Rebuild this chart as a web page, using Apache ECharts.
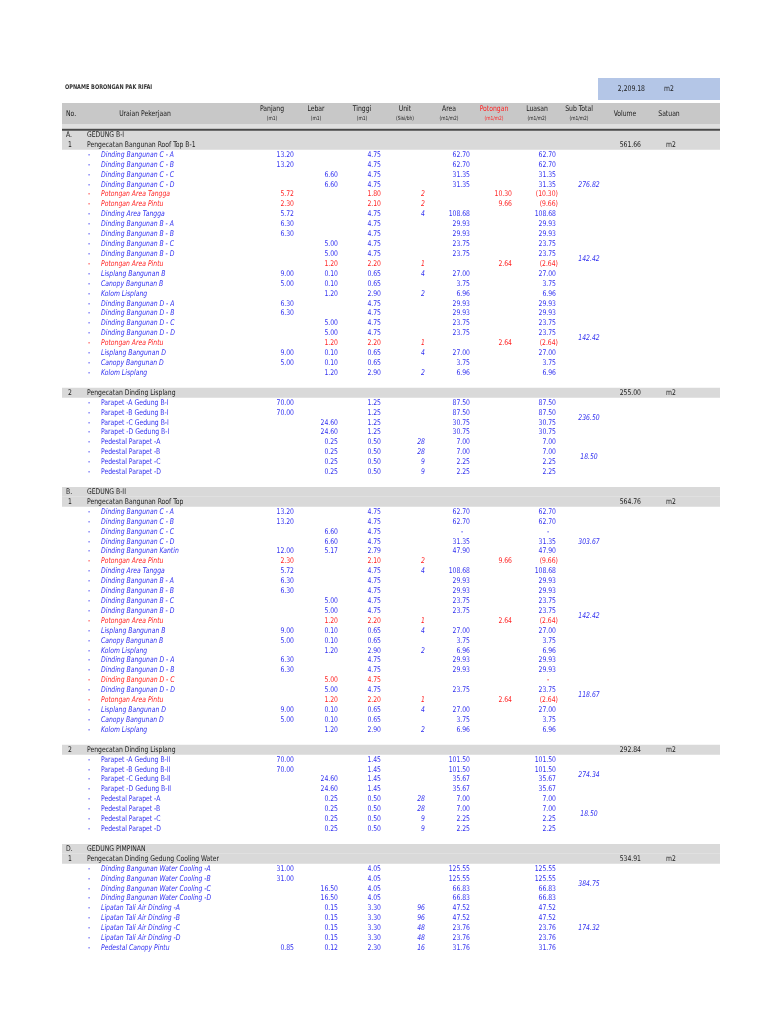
<!DOCTYPE html>
<html lang="id">
<head>
<meta charset="utf-8">
<title>Opname Borongan Pak Rifai</title>
<script src="https://cdn.jsdelivr.net/npm/echarts@6.0.0/dist/echarts.min.js"></script>
<style>
  html, body { margin: 0; padding: 0; background: #fff; }
  #main { width: 768px; height: 1024px; }
</style>
</head>
<body>
<div id="main"></div>
<script>
// ===== data =====
var judul = 'OPNAME BORONGAN PAK RIFAI';
var totalVolume = '2,209.18';
var totalSatuan = 'm2';
var kolomJudul = ['Panjang', 'Lebar', 'Tinggi', 'Unit', 'Area', 'Potongan', 'Luasan', 'Sub Total'];
var kolomSatuan = ['(m1)', '(m1)', '(m1)', '(Sisi/bh)', '(m1/m2)', '(m1/m2)', '(m1/m2)', '(m1/m2)'];

// [uraian, panjang, lebar, tinggi, unit, area, potongan, luasan]
var itemRoofB1 = [
  ['Dinding Bangunan C - A', 13.20, null, 4.75, null, 62.70, null, 62.70],
  ['Dinding Bangunan C - B', 13.20, null, 4.75, null, 62.70, null, 62.70],
  ['Dinding Bangunan C - C', null, 6.60, 4.75, null, 31.35, null, 31.35],
  ['Dinding Bangunan C - D', null, 6.60, 4.75, null, 31.35, null, 31.35],
  ['Potongan Area Tangga', 5.72, null, 1.80, 2, null, 10.30, -10.30],
  ['Potongan Area Pintu', 2.30, null, 2.10, 2, null, 9.66, -9.66],
  ['Dinding Area Tangga', 5.72, null, 4.75, 4, 108.68, null, 108.68],
  ['Dinding Bangunan B - A', 6.30, null, 4.75, null, 29.93, null, 29.93],
  ['Dinding Bangunan B - B', 6.30, null, 4.75, null, 29.93, null, 29.93],
  ['Dinding Bangunan B - C', null, 5.00, 4.75, null, 23.75, null, 23.75],
  ['Dinding Bangunan B - D', null, 5.00, 4.75, null, 23.75, null, 23.75],
  ['Potongan Area Pintu', null, 1.20, 2.20, 1, null, 2.64, -2.64],
  ['Lisplang Bangunan B', 9.00, 0.10, 0.65, 4, 27.00, null, 27.00],
  ['Canopy Bangunan B', 5.00, 0.10, 0.65, null, 3.75, null, 3.75],
  ['Kolom Lisplang', null, 1.20, 2.90, 2, 6.96, null, 6.96],
  ['Dinding Bangunan D - A', 6.30, null, 4.75, null, 29.93, null, 29.93],
  ['Dinding Bangunan D - B', 6.30, null, 4.75, null, 29.93, null, 29.93],
  ['Dinding Bangunan D - C', null, 5.00, 4.75, null, 23.75, null, 23.75],
  ['Dinding Bangunan D - D', null, 5.00, 4.75, null, 23.75, null, 23.75],
  ['Potongan Area Pintu', null, 1.20, 2.20, 1, null, 2.64, -2.64],
  ['Lisplang Bangunan D', 9.00, 0.10, 0.65, 4, 27.00, null, 27.00],
  ['Canopy Bangunan D', 5.00, 0.10, 0.65, null, 3.75, null, 3.75],
  ['Kolom Lisplang', null, 1.20, 2.90, 2, 6.96, null, 6.96]
];
var subRoofB1 = [[7, 276.82], [8, 142.42], [8, 142.42]];

var itemLisplangB1 = [
  ['Parapet -A Gedung B-I', 70.00, null, 1.25, null, 87.50, null, 87.50],
  ['Parapet -B Gedung B-I', 70.00, null, 1.25, null, 87.50, null, 87.50],
  ['Parapet -C Gedung B-I', null, 24.60, 1.25, null, 30.75, null, 30.75],
  ['Parapet -D Gedung B-I', null, 24.60, 1.25, null, 30.75, null, 30.75],
  ['Pedestal Parapet -A', null, 0.25, 0.50, 28, 7.00, null, 7.00],
  ['Pedestal Parapet -B', null, 0.25, 0.50, 28, 7.00, null, 7.00],
  ['Pedestal Parapet -C', null, 0.25, 0.50, 9, 2.25, null, 2.25],
  ['Pedestal Parapet -D', null, 0.25, 0.50, 9, 2.25, null, 2.25]
];
var subLisplangB1 = [[4, 236.50], [4, 18.50]];

var itemRoofB2 = [
  ['Dinding Bangunan C - A', 13.20, null, 4.75, null, 62.70, null, 62.70],
  ['Dinding Bangunan C - B', 13.20, null, 4.75, null, 62.70, null, 62.70],
  ['Dinding Bangunan C - C', null, 6.60, 4.75, null, 0, null, 0],
  ['Dinding Bangunan C - D', null, 6.60, 4.75, null, 31.35, null, 31.35],
  ['Dinding Bangunan Kantin', 12.00, 5.17, 2.79, null, 47.90, null, 47.90],
  ['Potongan Area Pintu', 2.30, null, 2.10, 2, null, 9.66, -9.66],
  ['Dinding Area Tangga', 5.72, null, 4.75, 4, 108.68, null, 108.68],
  ['Dinding Bangunan B - A', 6.30, null, 4.75, null, 29.93, null, 29.93],
  ['Dinding Bangunan B - B', 6.30, null, 4.75, null, 29.93, null, 29.93],
  ['Dinding Bangunan B - C', null, 5.00, 4.75, null, 23.75, null, 23.75],
  ['Dinding Bangunan B - D', null, 5.00, 4.75, null, 23.75, null, 23.75],
  ['Potongan Area Pintu', null, 1.20, 2.20, 1, null, 2.64, -2.64],
  ['Lisplang Bangunan B', 9.00, 0.10, 0.65, 4, 27.00, null, 27.00],
  ['Canopy Bangunan B', 5.00, 0.10, 0.65, null, 3.75, null, 3.75],
  ['Kolom Lisplang', null, 1.20, 2.90, 2, 6.96, null, 6.96],
  ['Dinding Bangunan D - A', 6.30, null, 4.75, null, 29.93, null, 29.93],
  ['Dinding Bangunan D - B', 6.30, null, 4.75, null, 29.93, null, 29.93],
  ['Dinding Bangunan D - C', null, 5.00, 4.75, null, null, null, 0],
  ['Dinding Bangunan D - D', null, 5.00, 4.75, null, 23.75, null, 23.75],
  ['Potongan Area Pintu', null, 1.20, 2.20, 1, null, 2.64, -2.64],
  ['Lisplang Bangunan D', 9.00, 0.10, 0.65, 4, 27.00, null, 27.00],
  ['Canopy Bangunan D', 5.00, 0.10, 0.65, null, 3.75, null, 3.75],
  ['Kolom Lisplang', null, 1.20, 2.90, 2, 6.96, null, 6.96]
];
var subRoofB2 = [[7, 303.67], [8, 142.42], [8, 118.67]];

var itemLisplangB2 = [
  ['Parapet -A Gedung B-II', 70.00, null, 1.45, null, 101.50, null, 101.50],
  ['Parapet -B Gedung B-II', 70.00, null, 1.45, null, 101.50, null, 101.50],
  ['Parapet -C Gedung B-II', null, 24.60, 1.45, null, 35.67, null, 35.67],
  ['Parapet -D Gedung B-II', null, 24.60, 1.45, null, 35.67, null, 35.67],
  ['Pedestal Parapet -A', null, 0.25, 0.50, 28, 7.00, null, 7.00],
  ['Pedestal Parapet -B', null, 0.25, 0.50, 28, 7.00, null, 7.00],
  ['Pedestal Parapet -C', null, 0.25, 0.50, 9, 2.25, null, 2.25],
  ['Pedestal Parapet -D', null, 0.25, 0.50, 9, 2.25, null, 2.25]
];
var subLisplangB2 = [[4, 274.34], [4, 18.50]];

var itemCooling = [
  ['Dinding Bangunan Water Cooling -A', 31.00, null, 4.05, null, 125.55, null, 125.55],
  ['Dinding Bangunan Water Cooling -B', 31.00, null, 4.05, null, 125.55, null, 125.55],
  ['Dinding Bangunan Water Cooling -C', null, 16.50, 4.05, null, 66.83, null, 66.83],
  ['Dinding Bangunan Water Cooling -D', null, 16.50, 4.05, null, 66.83, null, 66.83],
  ['Lipatan Tali Air Dinding -A', null, 0.15, 3.30, 96, 47.52, null, 47.52],
  ['Lipatan Tali Air Dinding -B', null, 0.15, 3.30, 96, 47.52, null, 47.52],
  ['Lipatan Tali Air Dinding -C', null, 0.15, 3.30, 48, 23.76, null, 23.76],
  ['Lipatan Tali Air Dinding -D', null, 0.15, 3.30, 48, 23.76, null, 23.76],
  ['Pedestal Canopy Pintu', 0.85, 0.12, 2.30, 16, 31.76, null, 31.76]
];
var subCooling = [[4, 384.75], [5, 174.32]];

var gedung = [
  { kode: 'A.', nama: 'GEDUNG B-I', pekerjaan: [
    { no: '1', nama: 'Pengecatan Bangunan Roof Top B-1', item: itemRoofB1, sub: subRoofB1, volume: 561.66 },
    { no: '2', nama: 'Pengecatan Dinding Lisplang', item: itemLisplangB1, sub: subLisplangB1, volume: 255.00 }
  ]},
  { kode: 'B.', nama: 'GEDUNG B-II', pekerjaan: [
    { no: '1', nama: 'Pengecatan Bangunan Roof Top', item: itemRoofB2, sub: subRoofB2, volume: 564.76 },
    { no: '2', nama: 'Pengecatan Dinding Lisplang', item: itemLisplangB2, sub: subLisplangB2, volume: 292.84 }
  ]},
  { kode: 'D.', nama: 'GEDUNG PIMPINAN', pekerjaan: [
    { no: '1', nama: 'Pengecatan Dinding Gedung Cooling Water', item: itemCooling, sub: subCooling, volume: 534.91 }
  ]}
];

// ===== susun baris tabel =====
var baris = [];
gedung.forEach(function (g) {
  baris.push({ jenis: 'gedung', kode: g.kode, nama: g.nama });
  g.pekerjaan.forEach(function (p) {
    baris.push({ jenis: 'pekerjaan', kode: p.no, nama: p.nama, volume: p.volume });
    var mulai = baris.length;
    p.item.forEach(function (it) { baris.push({ jenis: 'item', v: it }); });
    var k = mulai;
    p.sub.forEach(function (s) {
      baris[k].span = s[0];
      baris[k].sub = s[1];
      k += s[0];
    });
    baris.push({ jenis: 'kosong' });
  });
});

// ===== tata letak kolom (posisi x) =====
var FONT = '"Liberation Sans Narrow", "DejaVu Sans Condensed", sans-serif';
var SEMPIT = 0.87;   // huruf dipersempit supaya mirip Calibri
var BIRU = '#2f2ff0';
var MERAH = '#ff2222';
var HITAM = '#1a1a1a';
var X = { kiri: 62, kanan: 720, kode: 66, noTengah: 70, judul: 87, dash: 89, nama: 101,
          subTotal: 589, volume: 641, satuan: 671 };
var kananKolom = [294, 338, 381, 425, 470, 512, 556];   // rata kanan kolom angka
var tengahJudul = [272, 316, 362, 405, 449, 494, 537, 579];
var namaTegak = /^(Parapet|Pedestal Parapet)/;

function fmt(v) {
  return Math.abs(v).toFixed(2).replace(/\B(?=(\d{3})+(?!\d))/g, ',');
}

function teks(x, y, s, warna, font, align) {
  return {
    type: 'text',
    x: x, y: y, scaleX: SEMPIT,
    style: { x: 0, y: 0, text: s, fill: warna, font: font,
             align: align, textAlign: align, verticalAlign: 'middle', textVerticalAlign: 'middle' }
  };
}

function kotak(x1, y1, x2, y2, warna) {
  return { type: 'rect', shape: { x: x1, y: y1, width: x2 - x1, height: y2 - y1 }, style: { fill: warna } };
}

function renderKepala(params, api) {
  var p = function (x, v) { return api.coord([x, v]); };
  var kids = [];
  var f = '7.8px ' + FONT;
  var fKecil = '5.6px ' + FONT;
  kids.push(kotak(p(X.kiri, 0)[0], p(0, -3.23)[1], p(X.kanan, 0)[0], p(0, -1.11)[1], '#c8c8c8'));
  kids.push(kotak(p(X.kiri, 0)[0], p(0, -1.11)[1], p(X.kanan, 0)[0], p(0, -0.62)[1], '#e0e0e0'));
  kids.push(kotak(p(X.kiri, 0)[0], p(0, -0.62)[1], p(X.kanan, 0)[0], p(0, -0.62)[1] + 1.8, '#4a4a4a'));
  kids.push(kotak(p(598, 0)[0], p(0, -5.75)[1], p(X.kanan, 0)[0], p(0, -3.53)[1], '#b4c6e7'));
  kids.push(teks(p(65, 0)[0], p(0, -4.84)[1], judul, '#333', 'bold 6.4px ' + FONT, 'left'));
  kids.push(teks(p(645, 0)[0], p(0, -4.64)[1], totalVolume, HITAM, f, 'right'));
  kids.push(teks(p(669, 0)[0], p(0, -4.64)[1], totalSatuan, HITAM, f, 'center'));
  kids.push(teks(p(X.kode, 0)[0], p(0, -2.1)[1], 'No.', HITAM, f, 'left'));
  kids.push(teks(p(145, 0)[0], p(0, -2.1)[1], 'Uraian Pekerjaan', HITAM, f, 'center'));
  kolomJudul.forEach(function (nm, i) {
    var w = nm === 'Potongan' ? MERAH : HITAM;
    kids.push(teks(p(tengahJudul[i], 0)[0], p(0, -2.62)[1], nm, w, f, 'center'));
    kids.push(teks(p(tengahJudul[i], 0)[0], p(0, -1.61)[1], kolomSatuan[i], w, fKecil, 'center'));
  });
  kids.push(teks(p(625, 0)[0], p(0, -2.1)[1], 'Volume', HITAM, f, 'center'));
  kids.push(teks(p(669, 0)[0], p(0, -2.1)[1], 'Satuan', HITAM, f, 'center'));
  return { type: 'group', children: kids };
}

function renderBaris(params, api) {
  var b = baris[params.dataIndex];
  var y = api.coord([0, params.dataIndex])[1];
  var h = api.size([0, 1])[1];
  var px = function (x) { return api.coord([x, 0])[0]; };
  var kids = [];
  var f = '7.8px ' + FONT;
  if (b.jenis === 'gedung' || b.jenis === 'pekerjaan') {
    kids.push(kotak(px(X.kiri), y - h / 2, px(X.kanan), y + h / 2, '#d9d9d9'));
    if (b.jenis === 'gedung') {
      kids.push(teks(px(X.kode), y, b.kode, HITAM, f, 'left'));
    } else {
      kids.push(teks(px(X.noTengah), y, b.kode, HITAM, f, 'center'));
      kids.push(teks(px(X.volume), y, fmt(b.volume), HITAM, f, 'right'));
      kids.push(teks(px(X.satuan), y, 'm2', HITAM, f, 'center'));
    }
    kids.push(teks(px(X.judul), y, b.nama, HITAM, f, 'left'));
  } else if (b.jenis === 'item') {
    var v = b.v;
    var warna = v[5] === null ? MERAH : BIRU;
    var fNama = (namaTegak.test(v[0]) ? '' : 'italic ') + f;
    kids.push(teks(px(X.dash), y, '-', warna, f, 'center'));
    kids.push(teks(px(X.nama), y, v[0], warna, fNama, 'left'));
    for (var c = 1; c <= 7; c++) {
      var n = v[c];
      if (n === null) continue;
      var xr = px(kananKolom[c - 1]);
      if (c === 4) {
        kids.push(teks(xr, y, String(n), warna, 'italic ' + f, 'right'));
      } else if (n === 0) {
        kids.push(teks(xr - 8, y, '-', warna, f, 'center'));
      } else if (n < 0) {
        kids.push(teks(xr + 2, y, '(' + fmt(n) + ')', warna, f, 'right'));
      } else {
        kids.push(teks(xr, y, fmt(n), warna, f, 'right'));
      }
    }
    if (b.sub != null) {
      var ys = y + (b.span - 1) / 2 * h;
      kids.push(teks(px(X.subTotal), ys, fmt(b.sub), BIRU, 'italic ' + f, 'center'));
    }
  }
  return { type: 'group', children: kids };
}

var myChart = echarts.init(document.getElementById('main'));
var option = {
  animation: false,
  backgroundColor: '#fff',
  grid: { left: 0, right: 0, top: 75.5, bottom: 66.1 },
  xAxis: { type: 'value', min: 0, max: 768, show: false },
  yAxis: { type: 'value', min: -6, max: 83, inverse: true, show: false },
  series: [
    { type: 'custom', name: 'baris', renderItem: renderBaris, silent: true, z: 2,
      data: baris.map(function (b, i) { return [0, i]; }) },
    // kepala tabel digambar di atas baris supaya garis gelapnya tidak tertutup
    { type: 'custom', name: 'kepala', renderItem: renderKepala, data: [[0, 0]], silent: true, z: 3 }
  ]
};
myChart.setOption(option);
</script>
</body>
</html>
